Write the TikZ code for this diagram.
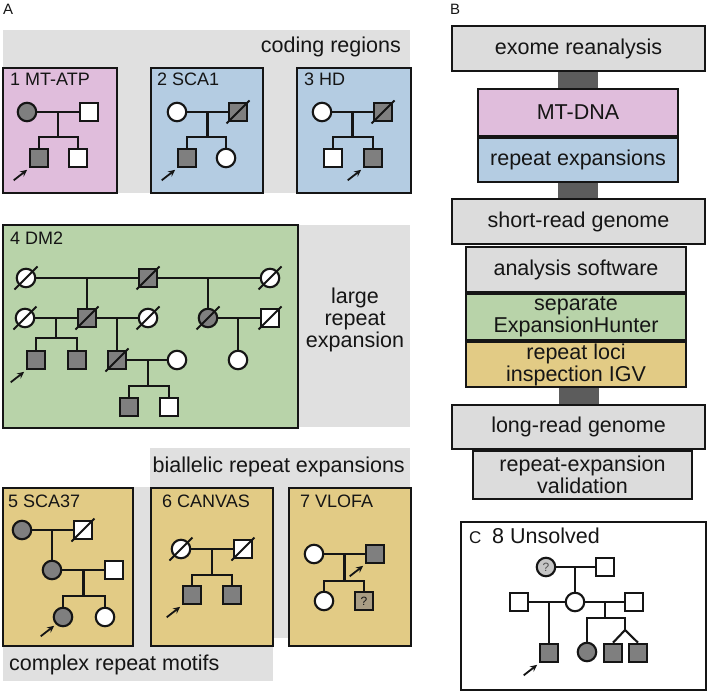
\documentclass[tikz,border=0pt]{standalone}
\usepackage{fontspec}
\setmainfont{Liberation Sans}
\usetikzlibrary{arrows.meta,calc,backgrounds}
\definecolor{pinkc}{HTML}{E0BDDC}
\definecolor{bluec}{HTML}{B4CCE2}
\definecolor{greenc}{HTML}{B8D3A9}
\definecolor{tanc}{HTML}{E2CB85}
\definecolor{bandc}{HTML}{E0E0E0}
\definecolor{boxg}{HTML}{DCDCDC}
\definecolor{barc}{HTML}{5C5C5C}
\definecolor{affc}{HTML}{7F7F7F}
\definecolor{unkc}{HTML}{A99D84}
\definecolor{qc}{HTML}{C6C6C6}
\definecolor{inkc}{HTML}{151515}
\newcommand\fbig{\fontsize{21.5}{22}\selectfont}
\newcommand\ftitle{\fontsize{18}{20}\selectfont}
\newcommand\flab{\fontsize{15}{17}\selectfont}
\newcommand\fq{\fontsize{12}{13}\selectfont}
\newcommand\decd[1]{\draw[pl] ([shift={(-11.5pt,-11.5pt)}]#1.center) -- ([shift={(11.5pt,11.5pt)}]#1.center);}
\newcommand\prob[1]{\draw[probarrow] ([shift={(-15pt,-12pt)}]#1.south west) -- ([shift={(-1.5pt,-1.5pt)}]#1.south west);}
\tikzset{
 pl/.style={line width=2.1pt, draw=inkc},
 pedsym/.style={draw=inkc, line width=2.1pt, minimum size=18.5pt, inner sep=0pt, fill=white},
 sq/.style={pedsym, rectangle},
 ci/.style={pedsym, circle},
 aff/.style={fill=affc},
 probarrow/.style={draw=inkc, line width=1.8pt, -{Stealth[length=7pt,width=6.5pt]}},
 panel/.style={draw=inkc, line width=2.2pt},
 bandtxt/.style={font=\fbig, text=inkc, inner sep=0pt},
 ttl/.style={font=\ftitle, text=inkc, inner sep=0pt, anchor=base west},
 plab/.style={font=\flab, text=inkc, inner sep=0pt, anchor=base west},
 bbox/.style={draw=inkc, line width=2.1pt, inner sep=0pt, align=center, font=\fbig, text=inkc},
 linkbar/.style={fill=barc},
}
\begin{document}
\begin{tikzpicture}[x=1pt,y=-1pt]
\useasboundingbox (0,0) rectangle (708,692);
% ---------- bands ----------
\fill[bandc] (3,30) rectangle (410,193);
\fill[bandc] (3,225) rectangle (410,427);
\fill[bandc] (150,448) rectangle (410,638);
\fill[bandc] (3,487) rectangle (273,681);
\node[bandtxt, anchor=base east] (tcod) at (401,53) {coding regions};
\node[bandtxt, align=center] (tlrg) at (355,319.5) {large\\repeat\\expansion};
\node[bandtxt, anchor=base east] (tbia) at (405,472) {biallelic repeat expansions};
\node[bandtxt, anchor=base west] (tcmp) at (9,670) {complex repeat motifs};
% ---------- panel labels ----------
\node[plab] (labA) at (3,15) {A};
\node[plab] (labB) at (450,15) {B};
% ---------- panel boxes ----------
\draw[panel, fill=pinkc] (3,68) rectangle (117,193);
\draw[panel, fill=bluec] (151,68) rectangle (263,193);
\draw[panel, fill=bluec] (297,68) rectangle (411,193);
\draw[panel, fill=greenc] (3,225) rectangle (298,428);
\draw[panel, fill=tanc] (3,488) rectangle (133,646);
\draw[panel, fill=tanc] (151,488) rectangle (273,646);
\draw[panel, fill=tanc] (289,488) rectangle (411,646);
\draw[panel, fill=white] (461,522) rectangle (706,690);
% titles
\node[ttl] (ti1) at (10,86) {1 MT-ATP};
\node[ttl] (ti2) at (157,86) {2 SCA1};
\node[ttl] (ti3) at (304,86) {3 HD};
\node[ttl] (ti4) at (10,244) {4 DM2};
\node[ttl] (ti5) at (8,507) {5 SCA37};
\node[ttl] (ti6) at (162,507) {6 CANVAS};
\node[ttl] (ti7) at (300,507) {7 VLOFA};
\node[plab, font=\fontsize{17}{19}\selectfont] (labC) at (469,543) {C};
\node[ttl, font=\fbig] (ti8) at (492,543) {8 Unsolved};
% ---------- pedigree 1 ----------
\node[ci,aff] (a1) at (27,112) {};
\node[sq] (b1) at (89,112) {};
\node[sq,aff] (c1) at (39,158) {};
\node[sq] (d1) at (78,158) {};
\draw[pl] (a1) -- (b1);
\coordinate (j1) at ($(a1)!0.5!(b1)$);
\coordinate (s1) at (58,137);
\draw[pl] (j1) -- (s1);
\draw[pl] (c1.north) |- (s1) -| (d1.north);
\prob{c1}
% ---------- pedigree 2 ----------
\node[ci] (a2) at (177,112) {};
\node[sq,aff] (b2) at (238,112) {};
\decd{b2}
\node[sq,aff] (c2) at (187,158) {};
\node[ci] (d2) at (226,158) {};
\draw[pl] (a2) -- (b2);
\coordinate (j2) at ($(a2)!0.5!(b2)$);
\coordinate (s2) at (207.5,137);
\draw[pl] (j2) -- (s2);
\draw[pl] (c2.north) |- (s2) -| (d2.north);
\prob{c2}
% ---------- pedigree 3 ----------
\node[ci] (a3) at (322,112) {};
\node[sq,aff] (b3) at (383,112) {};
\decd{b3}
\node[sq] (c3) at (333,158) {};
\node[sq,aff] (d3) at (373,158) {};
\draw[pl] (a3) -- (b3);
\coordinate (j3) at ($(a3)!0.5!(b3)$);
\coordinate (s3) at (352.5,137);
\draw[pl] (j3) -- (s3);
\draw[pl] (c3.north) |- (s3) -| (d3.north);
\prob{d3}
% ---------- pedigree 4 (DM2) ----------
\node[ci] (g1a) at (26,278) {};
\node[sq,aff] (g1b) at (148,278) {};
\node[ci] (g1c) at (270,278) {};
\node[ci] (g2a) at (25,318) {};
\node[sq,aff] (g2b) at (87,318) {};
\node[ci] (g2c) at (148,318) {};
\node[ci,aff] (g2d) at (208,318) {};
\node[sq] (g2e) at (270,318) {};
\node[sq,aff] (g3a) at (36,360) {};
\node[sq,aff] (g3b) at (77,360) {};
\node[sq,aff] (g3c) at (117,360) {};
\node[ci] (g3d) at (177,360) {};
\node[ci] (g3e) at (238,360) {};
\node[sq,aff] (g4a) at (129,407) {};
\node[sq] (g4b) at (169,407) {};
\draw[pl] (g1a) -- (g1b);
\draw[pl] (g1b) -- (g1c);
\draw[pl] (g2a) -- (g2b);
\draw[pl] (g2b) -- (g2c);
\draw[pl] (g2d) -- (g2e);
\draw[pl] (g3c) -- (g3d);
\draw[pl] (g2b.north |- g1a) -- (g2b);
\draw[pl] (g2d.north |- g1b) -- (g2d);
\draw[pl] (g3c.north |- g2b) -- (g3c);
\draw[pl] (g3e.north |- g2d) -- (g3e);
\coordinate (s4a) at (56,338);
\draw[pl] (s4a |- g2a) -- (s4a);
\draw[pl] (g3a.north) |- (s4a) -| (g3b.north);
\coordinate (s4b) at (148,386);
\draw[pl] (s4b |- g3c) -- (s4b);
\draw[pl] (g4a.north) |- (s4b) -| (g4b.north);
\decd{g1a}\decd{g1b}\decd{g1c}
\decd{g2a}\decd{g2b}\decd{g2c}\decd{g2d}\decd{g2e}
\decd{g3c}
\prob{g3a}
% ---------- pedigree 5 ----------
\node[ci,aff] (e1) at (22,530) {};
\node[sq] (e2) at (83,530) {};
\decd{e2}
\node[ci,aff] (e3) at (52,570) {};
\node[sq] (e4) at (114,570) {};
\node[ci,aff] (e5) at (63,617) {};
\node[ci] (e6) at (105,617) {};
\draw[pl] (e1) -- (e2);
\draw[pl] (e3.north |- e1) -- (e3);
\draw[pl] (e3) -- (e4);
\coordinate (s5) at (83.5,596);
\draw[pl] (s5 |- e3) -- (s5);
\draw[pl] (e5.north) |- (s5) -| (e6.north);
\prob{e5}
% ---------- pedigree 6 ----------
\node[ci] (f1) at (181,549) {};
\node[sq] (f2) at (243,549) {};
\decd{f1}\decd{f2}
\node[sq,aff] (f3) at (192,595) {};
\node[sq,aff] (f4) at (232,595) {};
\draw[pl] (f1) -- (f2);
\coordinate (s6) at (212,575);
\draw[pl] (s6 |- f1) -- (s6);
\draw[pl] (f3.north) |- (s6) -| (f4.north);
\prob{f3}
% ---------- pedigree 7 ----------
\node[ci] (h1) at (314,554) {};
\node[sq,aff] (h2) at (375,554) {};
\node[ci] (h3) at (324,601) {};
\node[sq, fill=unkc, font=\fq, text=inkc] (h4) at (364,601) {?};
\draw[pl] (h1) -- (h2);
\coordinate (s7) at (344.5,581);
\draw[pl] (s7 |- h1) -- (s7);
\draw[pl] (h3.north) |- (s7) -| (h4.north);
\prob{h2}
% ---------- pedigree 8 (C) ----------
\node[ci, fill=qc, font=\fq, text=inkc!75] (k1) at (546,567) {?};
\node[sq] (k2) at (605,567) {};
\node[sq] (k3) at (519,602) {};
\node[ci] (k4) at (575,602) {};
\node[sq] (k5) at (634,602) {};
\node[sq,aff] (k6) at (549,653) {};
\node[ci,aff] (k7) at (587,652) {};
\node[sq,aff] (k8) at (613,653) {};
\node[sq,aff] (k9) at (638,653) {};
\draw[pl] (k1) -- (k2);
\draw[pl] (k4.north |- k1) -- (k4);
\draw[pl] (k3) -- (k4);
\draw[pl] (k4) -- (k5);
\draw[pl] (k6.north |- k3) -- (k6);
\coordinate (s8) at (605,618);
\coordinate (tw) at (625,630);
\draw[pl] (s8 |- k4) -- (s8);
\draw[pl] (k7.north) |- (s8) -| (tw);
\draw[pl] (tw) -- (k8.north);
\draw[pl] (tw) -- (k9.north);
\prob{k6}
% ---------- panel B ----------
\node[bbox, fill=boxg, minimum width=253pt, minimum height=45pt] (exome) at (578.5,48.5) {exome reanalysis};
\node[bbox, fill=pinkc, minimum width=200pt, minimum height=47pt] (mtdna) at (578,112.5) {MT-DNA};
\node[bbox, fill=bluec, minimum width=200pt, minimum height=44pt] (repexp) at (578,160) {repeat expansions};
\node[bbox, fill=boxg, minimum width=253pt, minimum height=45pt] (short) at (578.5,221.5) {short-read genome};
\node[bbox, fill=boxg, minimum width=220pt, minimum height=45pt] (anasoft) at (576,269.5) {analysis software};
\node[bbox, fill=greenc, minimum width=220pt, minimum height=46pt] (sepeh) at (576,317) {separate\\ExpansionHunter};
\node[bbox, fill=tanc, minimum width=220pt, minimum height=45pt] (loci) at (576,364.5) {repeat loci\\inspection IGV};
\node[bbox, fill=boxg, minimum width=253pt, minimum height=44pt] (long) at (578.5,427) {long-read genome};
\node[bbox, fill=boxg, minimum width=219pt, minimum height=48pt] (valid) at (582.5,475) {repeat-expansion\\validation};
\begin{scope}[on background layer]
\fill[linkbar] ([xshift=-20pt]mtdna.north |- exome.south) rectangle ([xshift=20pt]mtdna.north);
\fill[linkbar] ([xshift=-20pt]repexp.south) rectangle ([xshift=20pt]repexp.south |- short.north);
\fill[linkbar] ([xshift=-20pt]long.north |- loci.south) rectangle ([xshift=20pt]long.north);
\end{scope}
\end{tikzpicture}
\end{document}
